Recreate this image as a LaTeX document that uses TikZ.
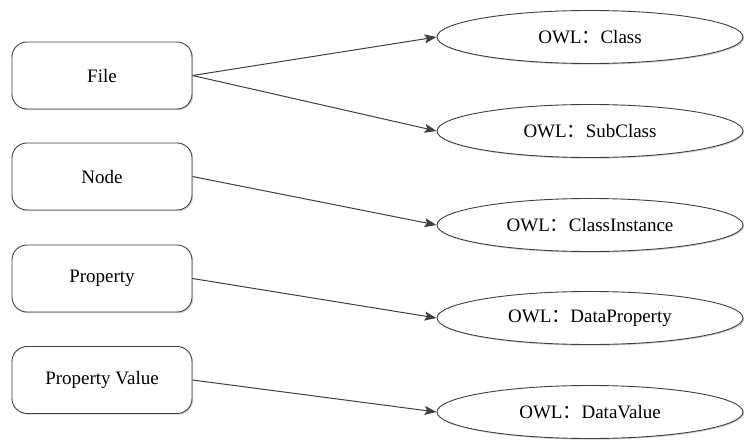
\documentclass[tikz,border=0pt]{standalone}
\usepackage{fontspec}
\setmainfont{Liberation Serif}[Ligatures=TeX]
\newfontfamily\cjkfont{Noto Sans CJK SC}
\usetikzlibrary{shapes.geometric,arrows.meta,shadows}
\definecolor{edge}{HTML}{404040}
\newcommand{\owl}[1]{OWL{\cjkfont ：}#1}
\tikzset{
  srcbox/.style={draw=edge, line width=0.9pt, rounded corners=15pt, fill=white,
    minimum width=180pt, minimum height=67pt, inner sep=0pt,
    drop shadow={shadow xshift=1.2pt, shadow yshift=-1.2pt, fill=black!18, opacity=1}},
  owlnode/.style={draw=edge, line width=0.9pt, ellipse, fill=white,
    minimum width=306pt, minimum height=53pt, inner sep=0pt,
    drop shadow={shadow xshift=1.2pt, shadow yshift=-1.2pt, fill=black!18, opacity=1}},
  link/.style={draw=edge, line width=1pt, -{Stealth[length=12pt,width=9pt,inset=2.5pt]}},
}
\begin{document}
\begin{tikzpicture}[x=1pt,y=-1pt,font=\rmfamily\fontsize{19}{22}\selectfont]
\useasboundingbox (0,0) rectangle (744,439);
% source elements
\node[srcbox] (file) at (102,75.5) {File};
\node[srcbox] (node) at (102,176.5) {Node};
\node[srcbox] (prop) at (102,278.5) {Property};
\node[srcbox] (pval) at (102,380) {Property Value};
% OWL targets
\node[owlnode] (cls) at (590,37) {\owl{Class}};
\node[owlnode] (sub) at (590,131) {\owl{SubClass}};
\node[owlnode] (inst) at (590,225) {\owl{ClassInstance}};
\node[owlnode] (dprop) at (590,318) {\owl{DataProperty}};
\node[owlnode] (dval) at (590,412) {\owl{DataValue}};
% mappings
\draw[link] (file.east) -- (cls.west);
\draw[link] (file.east) -- (sub.west);
\draw[link] (node.east) -- (inst.west);
\draw[link] (prop.east) -- (dprop.west);
\draw[link] (pval.east) -- (dval.west);
\end{tikzpicture}
\end{document}
